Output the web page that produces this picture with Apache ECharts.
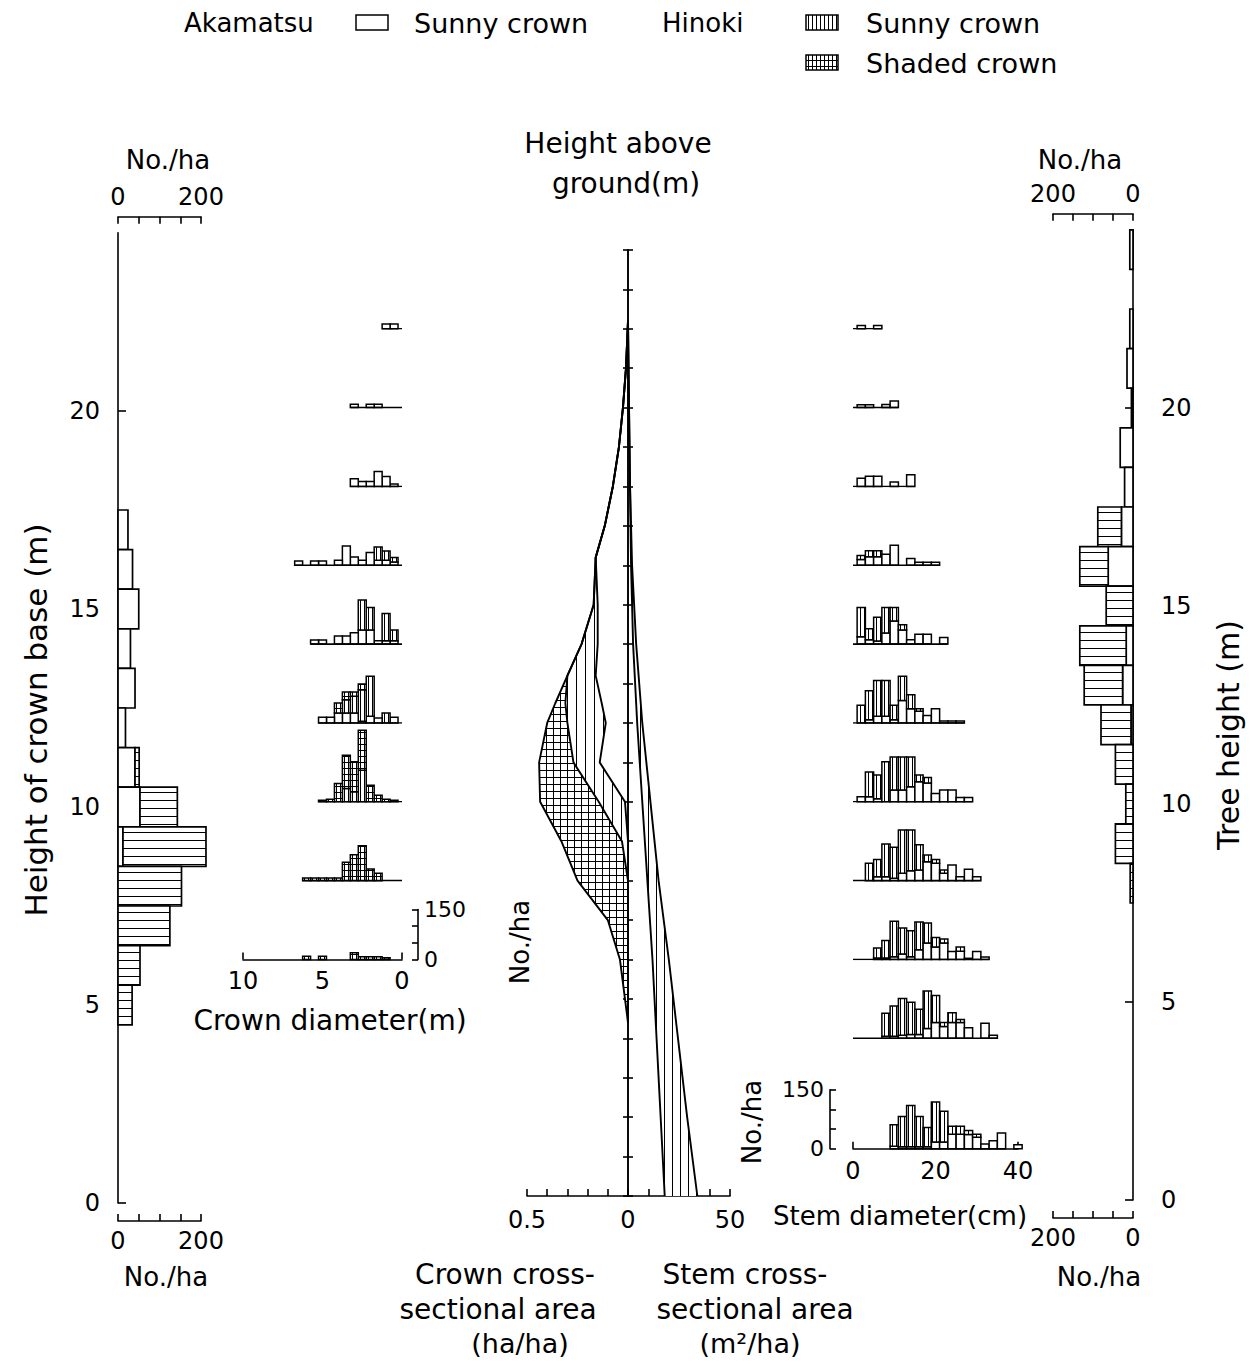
<!DOCTYPE html>
<html>
<head>
<meta charset="utf-8">
<title>Crown and stem distribution by height</title>
<script src="https://cdn.jsdelivr.net/npm/echarts@6/dist/echarts.min.js"></script>
<style>
  html, body { margin: 0; padding: 0; background: #fff; }
  #chart { width: 1250px; height: 1367px; }
</style>
</head>
<body>
<div id="chart"></div>
<script>
// ---------- data (No./ha unless noted) ----------
// height of crown base, 1 m classes
const baseHeights = [17, 16, 15, 14, 13, 12, 11, 10, 9, 8, 7, 6, 5];
const baseAkamatsu = [24, 35, 50, 30, 41, 18, 41, 53, 12, 0, 0, 0, 0];
const baseHinoki = [0, 0, 0, 0, 0, 0, 10, 90, 200, 153, 125, 53, 34];

// tree height, 1 m classes
const treeHeights = [24, 23, 22, 21, 20, 19, 18, 17, 16, 15, 14, 13, 12, 11, 10, 9, 8];
const treeAkamatsu = [8, 0, 8, 15, 4, 32, 21, 29, 62, 0, 17, 26, 5, 0, 0, 0, 0];
const treeHinoki = [0, 0, 0, 0, 0, 0, 0, 59, 71, 67, 116, 96, 75, 44, 18, 44, 7];

// crown cross-sectional area (ha/ha) at height (m)
const crownHeights = [22.2, 21, 20, 19, 18, 17, 16.2, 15, 14, 13.2, 12.5, 12, 11, 10, 9, 8, 7, 6, 5, 4.4];
const crownAkamatsu = [0, 0.01, 0.025, 0.045, 0.075, 0.115, 0.16, 0.15, 0.15, 0.16, 0.13, 0.11, 0.14, 0.015, 0, 0, 0, 0, 0, 0];
const crownHinokiSunny = [0, 0, 0, 0, 0, 0, 0, 0.02, 0.08, 0.14, 0.18, 0.19, 0.13, 0.13, 0.03, 0, 0, 0, 0, 0];
const crownHinokiShaded = [0, 0, 0, 0, 0, 0, 0, 0, 0, 0, 0.05, 0.1, 0.17, 0.29, 0.3, 0.25, 0.1, 0.04, 0.015, 0];

// stem cross-sectional area (m2/ha) at height (m)
const stemHeights = [22.2, 20, 18, 16, 14, 12, 10, 8, 6, 4, 2, 0];
const stemAkamatsu = [0, 0.5, 1, 1.5, 2.5, 4.5, 7, 9.5, 12, 14, 16, 18];
const stemHinoki = [0, 0, 0, 0.5, 1.5, 2.5, 4, 5.5, 8, 10.5, 13, 16];

// crown diameter distributions (0.5 m classes) at these heights
const crownRowHeights = [22, 20, 18, 16, 14, 12, 10, 8, 6];
const crownDiam = [0.5, 1, 1.5, 2, 2.5, 3, 3.5, 4, 4.5, 5, 5.5, 6, 6.5];
const crownDiamAkamatsu = [
  [14, 14, 0, 0, 0, 0, 0, 0, 0, 0, 0, 0, 0],
  [0, 0, 10, 10, 0, 10, 0, 0, 0, 0, 0, 0, 0],
  [7, 30, 45, 15, 15, 23, 0, 0, 0, 0, 0, 0, 0],
  [10, 15, 15, 38, 15, 25, 58, 15, 0, 13, 13, 0, 13],
  [10, 10, 10, 42, 42, 34, 24, 24, 0, 12, 12, 0, 0],
  [17, 0, 15, 20, 5, 30, 30, 30, 17, 17, 0, 0, 0],
  [0, 0, 0, 0, 0, 0, 0, 0, 0, 0, 0, 0, 0],
  [0, 0, 0, 0, 0, 0, 0, 0, 0, 0, 0, 0, 0],
  [0, 0, 0, 0, 0, 0, 0, 0, 0, 0, 0, 0, 0]
];
const crownDiamHinokiSunny = [
  [0, 0, 0, 0, 0, 0, 0, 0, 0, 0, 0, 0, 0],
  [0, 0, 0, 0, 0, 0, 0, 0, 0, 0, 0, 0, 0],
  [0, 0, 0, 0, 0, 0, 0, 0, 0, 0, 0, 0, 0],
  [13, 28, 40, 0, 0, 0, 0, 0, 0, 0, 0, 0, 0],
  [32, 82, 0, 68, 90, 0, 0, 0, 0, 0, 0, 0, 0],
  [0, 30, 0, 120, 95, 50, 40, 0, 0, 0, 0, 0, 0],
  [0, 0, 0, 0, 95, 30, 40, 0, 0, 0, 0, 0, 0],
  [0, 0, 0, 0, 0, 0, 0, 0, 0, 0, 0, 0, 0],
  [0, 0, 0, 0, 0, 0, 0, 0, 0, 0, 0, 0, 0]
];
const crownDiamHinokiShaded = [
  [0, 0, 0, 0, 0, 0, 0, 0, 0, 0, 0, 0, 0],
  [0, 0, 0, 0, 0, 0, 0, 0, 0, 0, 0, 0, 0],
  [0, 0, 0, 0, 0, 0, 0, 0, 0, 0, 0, 0, 0],
  [0, 0, 0, 0, 0, 0, 0, 0, 0, 0, 0, 0, 0],
  [0, 0, 0, 0, 0, 0, 0, 0, 0, 0, 0, 0, 0],
  [0, 0, 0, 0, 17, 13, 23, 30, 0, 0, 0, 0, 0],
  [5, 8, 20, 50, 120, 90, 100, 55, 8, 5, 0, 0, 0],
  [0, 0, 22, 35, 105, 78, 55, 8, 8, 8, 8, 8, 0],
  [0, 5, 8, 8, 8, 20, 0, 0, 0, 10, 0, 10, 0]
];

// stem diameter distributions (2 cm classes) at these heights
const stemRowHeights = [22, 20, 18, 16, 14, 12, 10, 8, 6, 4, 1.2];
const stemDiam = [2, 4, 6, 8, 10, 12, 14, 16, 18, 20, 22, 24, 26, 28, 30, 32, 34, 36, 38, 40];
const stemDiamAkamatsu = [
  [8, 0, 8, 0, 0, 0, 0, 0, 0, 0, 0, 0, 0, 0, 0, 0, 0, 0, 0, 0],
  [7, 7, 0, 8, 17, 0, 0, 0, 0, 0, 0, 0, 0, 0, 0, 0, 0, 0, 0, 0],
  [21, 26, 26, 0, 11, 0, 30, 0, 0, 0, 0, 0, 0, 0, 0, 0, 0, 0, 0, 0],
  [15, 22, 22, 28, 51, 0, 17, 8, 8, 8, 0, 0, 0, 0, 0, 0, 0, 0, 0, 0],
  [19, 11, 8, 28, 59, 36, 11, 25, 25, 0, 17, 0, 0, 0, 0, 0, 0, 0, 0, 0],
  [0, 8, 17, 17, 8, 57, 36, 30, 19, 36, 5, 5, 5, 0, 0, 0, 0, 0, 0, 0],
  [13, 13, 8, 0, 30, 30, 38, 51, 48, 21, 30, 30, 11, 11, 0, 0, 0, 0, 0, 0],
  [0, 0, 10, 10, 6, 19, 25, 27, 48, 44, 19, 40, 10, 29, 10, 0, 0, 0, 0, 0],
  [0, 0, 4, 4, 7, 14, 7, 25, 42, 32, 42, 20, 21, 3, 20, 6, 0, 0, 0, 0],
  [0, 0, 0, 5, 5, 8, 10, 10, 25, 40, 30, 40, 40, 27, 0, 38, 8, 0, 0, 0],
  [0, 0, 0, 0, 6, 5, 5, 5, 5, 17, 17, 37, 37, 36, 29, 12, 20, 40, 0, 10]
];
const stemDiamHinoki = [
  [0, 0, 0, 0, 0, 0, 0, 0, 0, 0, 0, 0, 0, 0, 0, 0, 0, 0, 0, 0],
  [0, 0, 0, 0, 0, 0, 0, 0, 0, 0, 0, 0, 0, 0, 0, 0, 0, 0, 0, 0],
  [0, 0, 0, 0, 0, 0, 0, 0, 0, 0, 0, 0, 0, 0, 0, 0, 0, 0, 0, 0],
  [10, 15, 15, 0, 0, 0, 0, 0, 0, 0, 0, 0, 0, 0, 0, 0, 0, 0, 0, 0],
  [74, 28, 60, 65, 34, 13, 0, 0, 0, 0, 0, 0, 0, 0, 0, 0, 0, 0, 0, 0],
  [45, 74, 91, 91, 37, 62, 36, 6, 0, 0, 0, 0, 0, 0, 0, 0, 0, 0, 0, 0],
  [0, 63, 60, 102, 84, 84, 76, 17, 14, 0, 0, 0, 0, 0, 0, 0, 0, 0, 0, 0],
  [0, 44, 44, 83, 79, 110, 104, 64, 17, 10, 8, 0, 0, 0, 0, 0, 0, 0, 0, 0],
  [0, 0, 25, 44, 90, 66, 66, 70, 51, 24, 10, 0, 11, 0, 0, 0, 0, 0, 0, 0],
  [0, 0, 0, 59, 77, 93, 82, 64, 95, 69, 10, 25, 8, 0, 0, 0, 0, 0, 0, 0],
  [0, 0, 0, 0, 55, 77, 105, 77, 49, 102, 78, 20, 20, 10, 8, 0, 0, 0, 0, 0]
];

// ---------- helpers ----------
const INK = '#000';
const FONT = 'DejaVu Sans';
const yAt = h => 1196 - 39.42 * h;   // page y of a height on the centre scale

function pattern(w, h, vert, horiz) {
  const c = document.createElement('canvas');
  c.width = w; c.height = h;
  const g = c.getContext('2d');
  g.fillStyle = '#fff'; g.fillRect(0, 0, w, h);
  g.fillStyle = '#000';
  if (vert) g.fillRect(0, 0, 1, h);
  if (horiz) g.fillRect(0, 0, w, 1);
  return { image: c, repeat: 'repeat', imageWidth: w, imageHeight: h };
}
const PAT = {
  vBar: pattern(4, 4, true, false),
  gBar: pattern(4, 6, true, true),
  hBar: pattern(8, 8, false, true),
  vArea: pattern(9, 9, true, false),
  gArea: pattern(7, 7, true, true),
  vStem: pattern(8, 8, true, false)
};

const cumulate = (...arrs) => arrs[0].map((_, i) => arrs.reduce((s, a) => s + a[i], 0));
const box = (p, q) => ({ x: Math.min(p[0], q[0]), y: Math.min(p[1], q[1]), width: Math.abs(q[0] - p[0]), height: Math.abs(q[1] - p[1]) });

const line = (show = true) => ({ show, onZero: false, lineStyle: { color: INK, width: 1.6 } });
const tick = (len, inside, vals) => Object.assign({ show: true, inside, length: len, lineStyle: { color: INK, width: 1.6 } }, vals ? { customValues: vals } : {});
const label = (vals, size, margin) => ({ show: true, customValues: vals, color: INK, fontFamily: FONT, fontSize: size, margin });
const off = { show: false };

const grid = [], xAxis = [], yAxis = [], series = [];
function addPanel(rect, xa, ya) {
  grid.push(rect);
  const g = grid.length - 1;
  xAxis.push(Object.assign({ gridIndex: g, type: 'value', splitLine: off }, xa));
  yAxis.push(Object.assign({ gridIndex: g, type: 'value', splitLine: off }, ya));
  return { g, x: xAxis.length - 1, y: yAxis.length - 1 };
}

// horizontal stacked bars on a height axis (side histograms)
function sideBars(params, api) {
  const h = api.value(0), a = api.value(1), b = api.value(2);
  const top = api.coord([0, h + 0.5]);
  const p1 = api.coord([a, h - 0.5]);
  const p2 = api.coord([a + b, h - 0.5]);
  const kids = [];
  if (a > 0) kids.push({ type: 'rect', shape: box(top, p1), style: { fill: '#fff', stroke: INK, lineWidth: 1.7 } });
  if (b > 0) kids.push({ type: 'rect', shape: box([p1[0], top[1]], p2), style: { fill: PAT.hBar, stroke: INK, lineWidth: 1.7 } });
  return { type: 'group', children: kids };
}

// vertical stacked columns (diameter distributions)
function columns(binW) {
  const fills = ['#fff', PAT.vBar, PAT.gBar];
  return function (params, api) {
    const d = api.value(0);
    let acc = 0;
    const kids = [];
    [1, 2, 3].forEach((dim, k) => {
      const v = api.value(dim);
      if (!(v > 0)) return;
      const p = api.coord([d - binW / 2, acc]);
      const q = api.coord([d + binW / 2, acc + v]);
      kids.push({ type: 'rect', shape: box(p, q), style: { fill: fills[k], stroke: INK, lineWidth: 1.5 } });
      acc += v;
    });
    return { type: 'group', children: kids };
  };
}

// hatched band between two profiles
function band(hs, inner, outer, fill) {
  return function (params, api) {
    const pts = hs.map((h, i) => api.coord([outer[i], h]));
    for (let i = hs.length - 1; i >= 0; i--) pts.push(api.coord([inner[i], hs[i]]));
    return { type: 'polygon', shape: { points: pts }, style: { fill } };
  };
}

function profile(ax, hs, vals) {
  return {
    type: 'line', xAxisIndex: ax.x, yAxisIndex: ax.y, z: 4,
    data: hs.map((h, i) => [vals[i], h]),
    symbol: 'none', silent: true,
    lineStyle: { color: INK, width: 1.9 }
  };
}

// ---------- left: height of crown base ----------
const sideH = 24.5 * 39.6;
const L = addPanel({ left: 118, top: 1203 - sideH, width: 83, height: sideH },
  { min: 0, max: 200, interval: 50, position: 'bottom', offset: 18, axisLine: line(), axisTick: tick(7, true), axisLabel: label([0, 200], 24, 8) },
  { min: 0, max: 24.5, position: 'left', axisLine: line(), axisTick: tick(8, true, [0, 5, 10, 15, 20]), axisLabel: label([0, 5, 10, 15, 20], 24, 18) });
xAxis.push({ gridIndex: L.g, type: 'value', min: 0, max: 200, interval: 50, position: 'top', offset: 16, splitLine: off,
  axisLine: line(), axisTick: tick(7, true), axisLabel: label([0, 200], 24, 8) });
series.push({ type: 'custom', xAxisIndex: L.x, yAxisIndex: L.y, renderItem: sideBars, z: 3,
  encode: { x: [1, 2], y: 0 },
  data: baseHeights.map((h, i) => [h, baseAkamatsu[i], baseHinoki[i]]) });

// ---------- right: tree height ----------
const R = addPanel({ left: 1053, top: 1200 - sideH, width: 80, height: sideH },
  { min: 0, max: 200, interval: 50, inverse: true, position: 'bottom', offset: 18, axisLine: line(), axisTick: tick(7, true), axisLabel: label([0, 200], 24, 8) },
  { min: 0, max: 24.5, position: 'right', axisLine: line(), axisTick: tick(8, true, [0, 5, 10, 15, 20]), axisLabel: label([0, 5, 10, 15, 20], 24, 28) });
xAxis.push({ gridIndex: R.g, type: 'value', min: 0, max: 200, interval: 50, inverse: true, position: 'top', offset: 16, splitLine: off,
  axisLine: line(), axisTick: tick(7, true), axisLabel: label([0, 200], 24, 8) });
series.push({ type: 'custom', xAxisIndex: R.x, yAxisIndex: R.y, renderItem: sideBars, z: 3,
  encode: { x: [1, 2], y: 0 },
  data: treeHeights.map((h, i) => [h, treeAkamatsu[i], treeHinoki[i]]) });

// ---------- centre: crown and stem cross-sectional area ----------
const cTop = yAt(24), cH = 24 * 39.42;
const CL = addPanel({ left: 527, top: cTop, width: 101, height: cH },
  { min: 0, max: 0.5, interval: 0.1, inverse: true, position: 'bottom', axisLine: line(), axisTick: tick(7, true), axisLabel: label([0, 0.5], 24, 12) },
  { min: 0, max: 24, interval: 1, position: 'right', axisLine: line(), axisTick: tick(5, false), axisLabel: off });
const CR = addPanel({ left: 628, top: cTop, width: 102, height: cH },
  { min: 0, max: 50, interval: 10, position: 'bottom', axisLine: line(), axisTick: tick(7, true), axisLabel: label([50], 24, 12) },
  { min: 0, max: 24, interval: 1, position: 'left', axisLine: line(), axisTick: tick(5, false), axisLabel: off });

const crownA = crownAkamatsu;
const crownB = cumulate(crownAkamatsu, crownHinokiSunny);
const crownC = cumulate(crownAkamatsu, crownHinokiSunny, crownHinokiShaded);
series.push(
  { type: 'custom', xAxisIndex: CL.x, yAxisIndex: CL.y, z: 2, silent: true, data: [[0, 0]], renderItem: band(crownHeights, crownA, crownB, PAT.vArea) },
  { type: 'custom', xAxisIndex: CL.x, yAxisIndex: CL.y, z: 2, silent: true, data: [[0, 0]], renderItem: band(crownHeights, crownB, crownC, PAT.gArea) },
  profile(CL, crownHeights, crownA), profile(CL, crownHeights, crownB), profile(CL, crownHeights, crownC)
);
const stemS1 = stemAkamatsu;
const stemS2 = cumulate(stemAkamatsu, stemHinoki);
series.push(
  { type: 'custom', xAxisIndex: CR.x, yAxisIndex: CR.y, z: 2, silent: true, data: [[0, 0]], renderItem: band(stemHeights, stemS1, stemS2, PAT.vStem) },
  profile(CR, stemHeights, stemS1), profile(CR, stemHeights, stemS2)
);

// ---------- crown diameter rows ----------
crownRowHeights.forEach((h, r) => {
  const last = r === crownRowHeights.length - 1;
  const P = addPanel({ left: 243, top: yAt(h) - 50, width: 159, height: 50 },
    last ? { min: 0, max: 10, inverse: true, axisLine: line(), axisTick: tick(7, true, [0, 10]), axisLabel: label([0, 5, 10], 24, 10) }
         : { min: 0, max: 10, inverse: true, show: false },
    last ? { min: 0, max: 150, interval: 50, position: 'right', offset: 16, axisLine: line(), axisTick: tick(6, true), axisLabel: label([0, 150], 22, 6) }
         : { min: 0, max: 150, show: false });
  const rows = crownDiam.map((d, i) => [d, crownDiamAkamatsu[r][i], crownDiamHinokiSunny[r][i], crownDiamHinokiShaded[r][i]]);
  series.push({ type: 'custom', xAxisIndex: P.x, yAxisIndex: P.y, z: 3, renderItem: columns(0.5), encode: { x: 0, y: [1, 2, 3] }, data: rows });
  if (!last) {
    const reach = Math.max(...rows.filter(v => v[1] + v[2] + v[3] > 0).map(v => v[0] + 0.25));
    series.push({ type: 'line', xAxisIndex: P.x, yAxisIndex: P.y, z: 4, symbol: 'none', silent: true,
      data: [[0, 0], [reach, 0]], lineStyle: { color: INK, width: 1.6 } });
  }
});

// ---------- stem diameter rows ----------
stemRowHeights.forEach((h, r) => {
  const last = r === stemRowHeights.length - 1;
  const P = addPanel({ left: 853, top: yAt(h) - 59, width: 165, height: 59 },
    last ? { min: 0, max: 40, axisLine: line(), axisTick: tick(7, true, [0, 40]), axisLabel: label([0, 20, 40], 24, 10) }
         : { min: 0, max: 40, show: false },
    last ? { min: 0, max: 150, interval: 50, position: 'left', offset: 23, axisLine: line(), axisTick: tick(6, true), axisLabel: label([0, 150], 22, 6) }
         : { min: 0, max: 150, show: false });
  const rows = stemDiam.map((d, i) => [d, stemDiamAkamatsu[r][i], stemDiamHinoki[r][i], 0]);
  series.push({ type: 'custom', xAxisIndex: P.x, yAxisIndex: P.y, z: 3, renderItem: columns(2), encode: { x: 0, y: [1, 2] }, data: rows });
  if (!last) {
    const reach = Math.max(...rows.filter(v => v[1] + v[2] > 0).map(v => v[0] + 1));
    series.push({ type: 'line', xAxisIndex: P.x, yAxisIndex: P.y, z: 4, symbol: 'none', silent: true,
      data: [[0, 0], [reach, 0]], lineStyle: { color: INK, width: 1.6 } });
  }
});

// ---------- texts and legend ----------
function txt(text, x, y, size, rot, align) {
  return { type: 'text', x, y, rotation: rot || 0, silent: true,
    style: { text, fill: INK, fontFamily: FONT, fontSize: size, textAlign: align || 'center', textVerticalAlign: 'middle', align: align || 'center', verticalAlign: 'middle' } };
}
function swatch(x, y, fill) {
  return { type: 'rect', shape: { x, y, width: 32, height: 15 }, silent: true, style: { fill, stroke: INK, lineWidth: 1.5 } };
}
const graphic = [
  txt('Akamatsu', 184, 23, 26, 0, 'left'), swatch(356, 15, '#fff'), txt('Sunny crown', 414, 23, 27, 0, 'left'),
  txt('Hinoki', 662, 23, 26, 0, 'left'), swatch(806, 15, PAT.vBar), txt('Sunny crown', 866, 23, 27, 0, 'left'),
  swatch(806, 55, PAT.gBar), txt('Shaded crown', 866, 63, 27, 0, 'left'),
  txt('No./ha', 168, 160, 26), txt('No./ha', 166, 1277, 26),
  txt('No./ha', 1080, 160, 26), txt('No./ha', 1099, 1277, 26),
  txt('Height of crown base (m)', 36, 720, 31, Math.PI / 2),
  txt('Tree height (m)', 1228, 735, 30, Math.PI / 2),
  txt('Height above', 618, 143, 28), txt('ground(m)', 626, 183, 28),
  txt('Crown diameter(m)', 330, 1020, 28),
  txt('No./ha', 520, 942, 26, Math.PI / 2),
  txt('No./ha', 752, 1122, 26, Math.PI / 2),
  txt('Stem diameter(cm)', 900, 1216, 26),
  txt('Crown cross-', 505, 1274, 28), txt('sectional area', 498, 1309, 28), txt('(ha/ha)', 520, 1343, 27),
  txt('Stem cross-', 745, 1274, 28), txt('sectional area', 755, 1309, 28), txt('(m\u00B2/ha)', 750, 1343, 27)
];

const chart = echarts.init(document.getElementById('chart'), null, { renderer: 'svg', width: 1250, height: 1367 });
chart.setOption({
  backgroundColor: '#fff',
  animation: false,
  grid, xAxis, yAxis, series, graphic
});
</script>
</body>
</html>
